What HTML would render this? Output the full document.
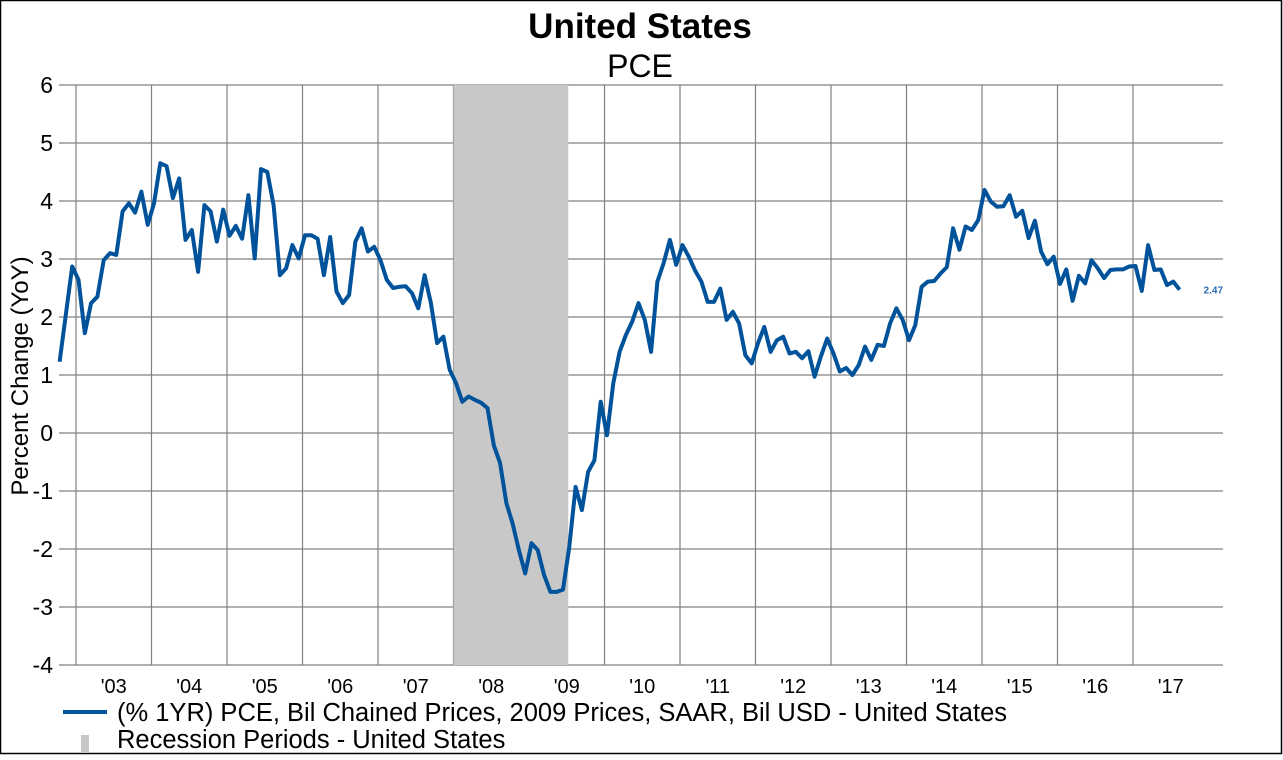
<!DOCTYPE html>
<html><head><meta charset="utf-8">
<style>
html,body{margin:0;padding:0;background:#fff;}
body{width:1283px;height:755px;overflow:hidden;}
svg text{font-family:"Liberation Sans",Arial,sans-serif;}
</style></head>
<body>
<svg id="chart" width="1283" height="755" viewBox="0 0 1283 755">
<rect x="0.5" y="0.5" width="1281" height="753" fill="#fff" stroke="#000" stroke-width="1.5"/>
<text x="640" y="38" text-anchor="middle" font-size="35" font-weight="bold">United States</text>
<text x="640" y="77" text-anchor="middle" font-size="32">PCE</text>
<text transform="translate(28,376) rotate(-90)" text-anchor="middle" font-size="24">Percent Change (YoY)</text>
<g id="grid"></g>
<g id="recess"></g>
<g id="yticks"></g>
<g id="xticks"></g>
<g id="series"></g>
<g>
<line x1="63" y1="712" x2="107" y2="712" stroke="#00539b" stroke-width="4"/>
<text x="117" y="721" font-size="25.5">(% 1YR) PCE, Bil Chained Prices, 2009 Prices, SAAR, Bil USD - United States</text>
<rect x="81" y="735" width="8" height="18" fill="#c8c8c8"/>
<text x="117" y="748" font-size="25.5">Recession Periods - United States</text>
</g>
</svg>
<script>
const yTicks = [6,5,4,3,2,1,0,-1,-2,-3,-4];
const xYears = [2003,2004,2005,2006,2007,2008,2009,2010,2011,2012,2013,2014,2015,2016,2017];
const xLabels = ["'03","'04","'05","'06","'07","'08","'09","'10","'11","'12","'13","'14","'15","'16","'17"];
const recessions = [[2008.0, 2009.52]];
const seriesStart = [2002, 9];
const pce = [1.23,2.05,2.87,2.64,1.72,2.24,2.35,2.98,3.1,3.07,3.82,3.96,3.8,4.16,3.59,3.96,4.65,4.6,4.05,4.39,3.33,3.5,2.78,3.93,3.82,3.3,3.85,3.4,3.57,3.35,4.1,3.01,4.55,4.5,3.93,2.72,2.84,3.24,3.01,3.41,3.41,3.35,2.72,3.38,2.44,2.24,2.38,3.3,3.53,3.13,3.21,2.98,2.64,2.5,2.52,2.53,2.41,2.15,2.72,2.24,1.55,1.66,1.09,0.86,0.54,0.63,0.57,0.52,0.43,-0.21,-0.52,-1.21,-1.56,-2.02,-2.42,-1.9,-2.02,-2.45,-2.74,-2.74,-2.7,-1.96,-0.93,-1.33,-0.67,-0.47,0.54,-0.04,0.86,1.4,1.69,1.92,2.24,1.95,1.4,2.61,2.93,3.33,2.9,3.24,3.04,2.8,2.61,2.26,2.26,2.49,1.95,2.09,1.89,1.34,1.2,1.55,1.83,1.4,1.6,1.66,1.37,1.4,1.29,1.41,0.97,1.32,1.63,1.37,1.06,1.12,1.0,1.17,1.49,1.26,1.52,1.5,1.89,2.15,1.95,1.6,1.86,2.52,2.61,2.62,2.75,2.86,3.53,3.16,3.56,3.5,3.67,4.19,3.99,3.9,3.91,4.1,3.73,3.83,3.36,3.66,3.13,2.91,3.04,2.57,2.82,2.28,2.71,2.58,2.98,2.84,2.67,2.81,2.82,2.82,2.87,2.88,2.45,3.24,2.81,2.82,2.55,2.61,2.47];
const lastLabel = "2.47";

const NS="http://www.w3.org/2000/svg";
const PL=59, PR=1223, PT=85, PB=665;
function yS(v){return PT+(6-v)*(PB-PT)/10;}
function xS(t){return 76+(t-2003)*75.5;}
function mk(tag,attrs,parent){const e=document.createElementNS(NS,tag);for(const k in attrs)e.setAttribute(k,attrs[k]);parent.appendChild(e);return e;}
const gR=document.getElementById('recess'),gG=document.getElementById('grid'),gY=document.getElementById('yticks'),gX=document.getElementById('xticks'),gS=document.getElementById('series');
recessions.forEach(r=>{
  const e=mk('rect',{x:xS(r[0]),y:PT,width:xS(r[1])-xS(r[0]),height:PB-PT,fill:'#c8c8c8'},gR);
  
  
});
yTicks.forEach(v=>{
  const l=mk('line',{x1:PL,x2:PR,y1:yS(v),y2:yS(v),stroke:'#808080','stroke-width':1.2},gG);
  
  
  const t=mk('text',{x:53,y:yS(v)+8,'text-anchor':'end','font-size':23},gY);
  t.textContent=v;
  
  
});
xYears.forEach((yr,i)=>{
  const l=mk('line',{x1:xS(yr),x2:xS(yr),y1:PT,y2:PB,stroke:'#808080','stroke-width':1.2},gG);
  
  
  const t=mk('text',{x:xS(yr+0.5),y:693,'text-anchor':'middle','font-size':20},gX);
  t.textContent=xLabels[i];
  
  
});
const pts=pce.map((v,k)=>[xS(seriesStart[0]+(seriesStart[1]+k+0.4)/12),yS(v)]);
const p=mk('polyline',{points:pts.map(q=>q[0].toFixed(1)+','+q[1].toFixed(1)).join(' '),fill:'none',stroke:'#00539b','stroke-width':4,'stroke-linejoin':'round'},gS);


const lp=pts[pts.length-1];
const lt=mk('text',{x:lp[0]+24,y:lp[1]+4,'font-size':10,'font-weight':'bold',fill:'#2a6db5'},gS);
lt.textContent=lastLabel;


</script>
</body></html>
